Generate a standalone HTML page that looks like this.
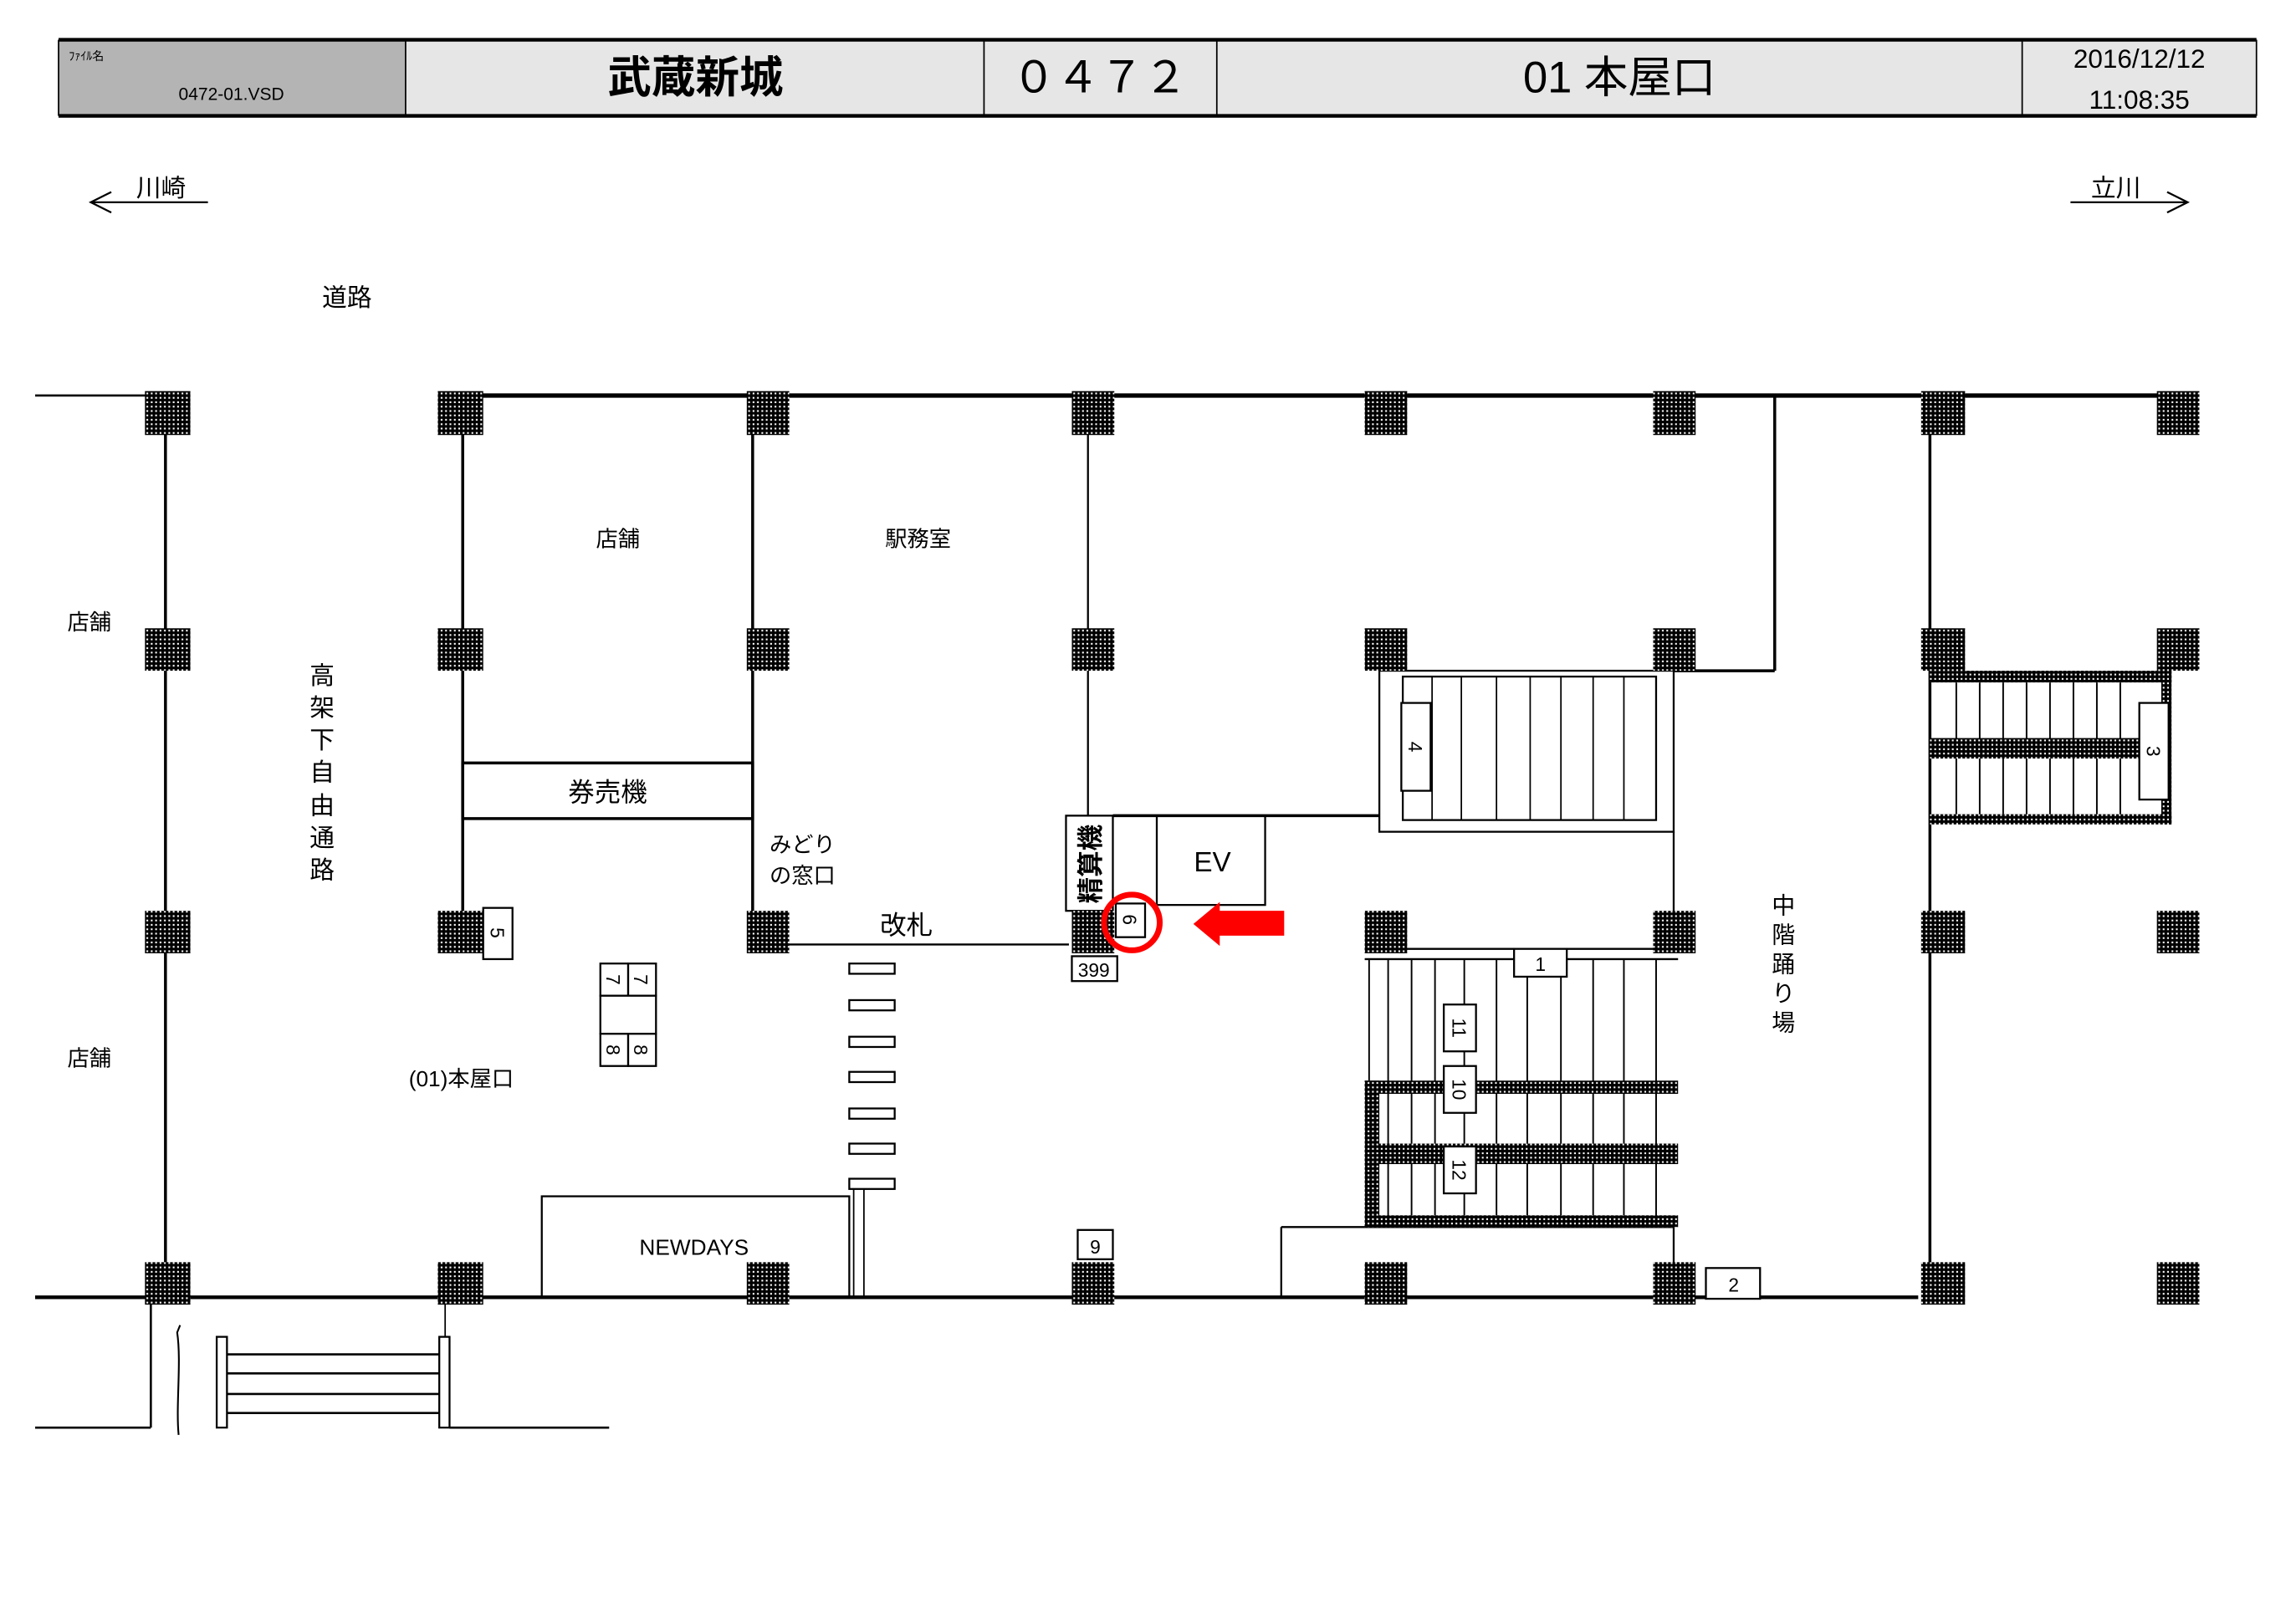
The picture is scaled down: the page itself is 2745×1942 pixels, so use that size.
<!DOCTYPE html>
<html><head><meta charset="utf-8"><style>
html,body{margin:0;padding:0;background:#fff;}
svg{display:block;}
text{font-family:"Liberation Sans","Noto Sans CJK JP",sans-serif;fill:#000;}
</style></head><body>
<svg width="2745" height="1942" viewBox="0 0 1568 1109" xmlns="http://www.w3.org/2000/svg">
<defs>
<pattern id="h" width="3" height="3" patternUnits="userSpaceOnUse">
<rect width="3" height="3" fill="#000"/><rect x="1" y="1" width="1.2" height="1.2" fill="#fff"/>
</pattern>
</defs>
<rect width="1568" height="1109" fill="#fff"/>
<!-- header -->
<rect x="40" y="27" width="237" height="52" fill="#b4b4b4"/>
<rect x="277" y="27" width="1264" height="52" fill="#e6e6e6"/>
<g stroke="#000" fill="none">
<line x1="40" y1="27" x2="1541" y2="27" stroke-width="2.5"/>
<line x1="40" y1="79" x2="1541" y2="79" stroke-width="2.5"/>
<line x1="40" y1="27" x2="40" y2="79"/><line x1="1541" y1="27" x2="1541" y2="79"/>
<line x1="277" y1="27" x2="277" y2="79"/><line x1="672" y1="27" x2="672" y2="79"/>
<line x1="831" y1="27" x2="831" y2="79"/><line x1="1381" y1="27" x2="1381" y2="79"/>
</g>
<text x="47" y="41" font-size="8">ﾌｧｲﾙ名</text>
<text x="158" y="68" font-size="12" text-anchor="middle">0472-01.VSD</text>
<text x="475" y="63" font-size="30" font-weight="bold" text-anchor="middle">武蔵新城</text>
<text x="751" y="63" font-size="30" text-anchor="middle">０４７２</text>
<text x="1106" y="63" font-size="30" text-anchor="middle">01 本屋口</text>
<text x="1461" y="46" font-size="18" text-anchor="middle">2016/12/12</text>
<text x="1461" y="74" font-size="18" text-anchor="middle">11:08:35</text>
<!-- direction arrows -->
<text x="110" y="134" font-size="17" text-anchor="middle">川崎</text>
<text x="1445" y="134" font-size="17" text-anchor="middle">立川</text>
<g stroke="#000" fill="none" stroke-width="1.3">
<line x1="62" y1="138" x2="142" y2="138"/><polyline points="76,131 62,138 76,145"/>
<line x1="1414" y1="138" x2="1494" y2="138"/><polyline points="1480,131 1494,138 1480,145"/>
</g>
<text x="237" y="209" font-size="17" text-anchor="middle">道路</text>
<!-- walls -->
<g stroke="#000" fill="none">
<line x1="315" y1="270" x2="1502" y2="270" stroke-width="3"/>
<line x1="24" y1="270" x2="100" y2="270" stroke-width="1.5"/>
<line x1="24" y1="886" x2="1310" y2="886" stroke-width="2.5"/>
<line x1="113" y1="282" x2="113" y2="877" stroke-width="2"/>
<line x1="316" y1="282" x2="316" y2="636" stroke-width="2"/>
<line x1="514" y1="282" x2="514" y2="636" stroke-width="2"/>
<line x1="743" y1="282" x2="743" y2="557" stroke-width="1.3"/>
<line x1="1212" y1="270" x2="1212" y2="458" stroke-width="2"/>
<line x1="1143" y1="458" x2="1212" y2="458" stroke-width="2"/>
<line x1="1318" y1="282" x2="1318" y2="877" stroke-width="2"/>
<rect x="316" y="521" width="198" height="38" stroke-width="2"/>
<line x1="538" y1="645" x2="730" y2="645" stroke-width="1.3"/>
<rect x="370" y="817" width="210" height="69" stroke-width="1.3"/>
<line x1="583" y1="812" x2="583" y2="886"/><line x1="590" y1="812" x2="590" y2="886"/>
<!-- bottom-left -->
<line x1="103" y1="886" x2="103" y2="975" stroke-width="1.5"/>
<line x1="24" y1="975" x2="103" y2="975" stroke-width="1.5"/>
<path d="M122,980 C120,960 124,930 121,910 L123,905" stroke-width="1.2"/>
<rect x="148" y="913" width="7" height="62" stroke-width="1.3"/>
<rect x="300" y="913" width="7" height="62" stroke-width="1.3"/>
<line x1="155" y1="925" x2="300" y2="925" stroke-width="1.5"/>
<line x1="155" y1="938" x2="300" y2="938" stroke-width="1.5"/>
<line x1="155" y1="952" x2="300" y2="952" stroke-width="1.5"/>
<line x1="155" y1="965" x2="300" y2="965" stroke-width="1.5"/>
<line x1="307" y1="975" x2="416" y2="975" stroke-width="1.5"/>
<line x1="304" y1="886" x2="304" y2="913"/>
<!-- gates -->
<rect x="580" y="658" width="31" height="7" stroke-width="1.3"/>
<rect x="580" y="683" width="31" height="7" stroke-width="1.3"/>
<rect x="580" y="708" width="31" height="7" stroke-width="1.3"/>
<rect x="580" y="732" width="31" height="7" stroke-width="1.3"/>
<rect x="580" y="757" width="31" height="7" stroke-width="1.3"/>
<rect x="580" y="781" width="31" height="7" stroke-width="1.3"/>
<rect x="580" y="805" width="31" height="7" stroke-width="1.3"/>
<!-- 精算機 / EV -->
<rect x="728" y="557" width="32" height="65" stroke-width="1.3"/>
<line x1="760" y1="557" x2="942" y2="557" stroke-width="2"/>
<rect x="790" y="557" width="74" height="61" stroke-width="1.3"/>
<line x1="760" y1="557" x2="760" y2="617"/>
<!-- upper stair 4 -->
<rect x="942" y="458" width="201" height="110" stroke-width="1.3"/>
<rect x="958" y="462" width="173" height="98" stroke-width="1.3"/>
<line x1="1143" y1="568" x2="1143" y2="636" stroke-width="1.3"/>
<line x1="998" y1="462" x2="998" y2="560"/><line x1="1022" y1="462" x2="1022" y2="560"/>
<line x1="1045" y1="462" x2="1045" y2="560"/><line x1="1066" y1="462" x2="1066" y2="560"/>
<line x1="1088" y1="462" x2="1088" y2="560"/><line x1="1109" y1="462" x2="1109" y2="560"/>
<line x1="978" y1="462" x2="978" y2="560"/>
<!-- stair 3 -->
<g stroke-width="1.1">
<line x1="1336" y1="466" x2="1336" y2="556"/><line x1="1352" y1="466" x2="1352" y2="556"/>
<line x1="1368" y1="466" x2="1368" y2="556"/><line x1="1384" y1="466" x2="1384" y2="556"/>
<line x1="1400" y1="466" x2="1400" y2="556"/><line x1="1416" y1="466" x2="1416" y2="556"/>
<line x1="1432" y1="466" x2="1432" y2="556"/><line x1="1448" y1="466" x2="1448" y2="556"/>
</g>
<!-- lower stair -->
<line x1="932" y1="648" x2="1146" y2="648" stroke-width="1.3"/>
<line x1="932" y1="655" x2="1146" y2="655" stroke-width="1.3"/>
<g stroke-width="1.1">
<line x1="935" y1="655" x2="935" y2="738"/><line x1="948" y1="655" x2="948" y2="838"/>
<line x1="964" y1="655" x2="964" y2="838"/><line x1="980" y1="655" x2="980" y2="838"/>
<line x1="1000" y1="655" x2="1000" y2="838"/><line x1="1022" y1="655" x2="1022" y2="838"/>
<line x1="1043" y1="655" x2="1043" y2="838"/><line x1="1066" y1="655" x2="1066" y2="838"/>
<line x1="1088" y1="655" x2="1088" y2="838"/><line x1="1109" y1="655" x2="1109" y2="838"/>
<line x1="1131" y1="655" x2="1131" y2="838"/>
</g>
<line x1="875" y1="838" x2="1143" y2="838" stroke-width="1.3"/>
<line x1="875" y1="838" x2="875" y2="886" stroke-width="1.3"/>
<line x1="1143" y1="838" x2="1143" y2="877" stroke-width="1.3"/>
</g>
<!-- hatched bands -->
<g fill="url(#h)">
<rect x="1318" y="458" width="165" height="8"/>
<rect x="1318" y="504" width="143" height="14"/>
<rect x="1318" y="556" width="165" height="7"/>
<rect x="1476" y="458" width="7" height="105"/>
<rect x="932" y="738" width="214" height="9"/>
<rect x="932" y="781" width="214" height="14"/>
<rect x="932" y="830" width="214" height="8"/>
<rect x="932" y="738" width="10" height="100"/>
</g>
<!-- columns -->
<g fill="url(#h)">
<rect x="99" y="267" width="31" height="30"/><rect x="299" y="267" width="31" height="30"/>
<rect x="510" y="267" width="29" height="30"/><rect x="732" y="267" width="29" height="30"/>
<rect x="932" y="267" width="29" height="30"/><rect x="1129" y="267" width="29" height="30"/>
<rect x="1312" y="267" width="30" height="30"/><rect x="1473" y="267" width="29" height="30"/>
<rect x="99" y="429" width="31" height="29"/><rect x="299" y="429" width="31" height="29"/>
<rect x="510" y="429" width="29" height="29"/><rect x="732" y="429" width="29" height="29"/>
<rect x="932" y="429" width="29" height="29"/><rect x="1129" y="429" width="29" height="29"/>
<rect x="1312" y="429" width="30" height="29"/><rect x="1473" y="429" width="29" height="29"/>
<rect x="99" y="622" width="31" height="29"/><rect x="299" y="622" width="31" height="29"/>
<rect x="510" y="622" width="29" height="29"/><rect x="732" y="622" width="29" height="29"/>
<rect x="932" y="622" width="29" height="29"/><rect x="1129" y="622" width="29" height="29"/>
<rect x="1312" y="622" width="30" height="29"/><rect x="1473" y="622" width="29" height="29"/>
<rect x="99" y="862" width="31" height="29"/><rect x="299" y="862" width="31" height="29"/>
<rect x="510" y="862" width="29" height="29"/><rect x="732" y="862" width="29" height="29"/>
<rect x="932" y="862" width="29" height="29"/><rect x="1129" y="862" width="29" height="29"/>
<rect x="1312" y="862" width="30" height="29"/><rect x="1473" y="862" width="29" height="29"/>
</g>
<!-- number boxes -->
<g fill="#fff" stroke="#000" stroke-width="1.3">
<rect x="330" y="620" width="20" height="35"/>
<rect x="410" y="658" width="19" height="22"/><rect x="429" y="658" width="19" height="22"/>
<rect x="410" y="680" width="38" height="26"/>
<rect x="410" y="706" width="19" height="22"/><rect x="429" y="706" width="19" height="22"/>
<rect x="762" y="617" width="20" height="23"/>
<rect x="732" y="653" width="31" height="17"/>
<rect x="736" y="840" width="24" height="20"/>
<rect x="1165" y="866" width="37" height="21"/>
<rect x="957" y="480" width="20" height="60"/>
<rect x="1461" y="480" width="20" height="66"/>
<rect x="1034" y="648" width="36" height="19"/>
<rect x="986" y="686" width="22" height="32"/>
<rect x="986" y="728" width="22" height="32"/>
<rect x="986" y="783" width="22" height="32"/>
</g>
<g font-size="13" text-anchor="middle">
<text transform="translate(340,637) rotate(90)" y="5">5</text>
<text transform="translate(419,669) rotate(90)" y="5">7</text>
<text transform="translate(438,669) rotate(90)" y="5">7</text>
<text transform="translate(419,717) rotate(90)" y="5">8</text>
<text transform="translate(438,717) rotate(90)" y="5">8</text>
<text transform="translate(772,628) rotate(90)" y="5">6</text>
<text x="747" y="667" font-size="13">399</text>
<text x="748" y="856">9</text>
<text x="1184" y="882">2</text>
<text transform="translate(967,510) rotate(90)" y="5">4</text>
<text transform="translate(1471,513) rotate(90)" y="5">3</text>
<text x="1052" y="663">1</text>
<text transform="translate(997,702) rotate(90)" y="5">11</text>
<text transform="translate(997,744) rotate(90)" y="5">10</text>
<text transform="translate(997,799) rotate(90)" y="5">12</text>
</g>
<!-- labels -->
<g font-size="15" text-anchor="middle">
<text x="422" y="373">店舗</text>
<text x="627" y="373">駅務室</text>
<text x="61" y="430">店舗</text>
<text x="61" y="728">店舗</text>
<text x="548" y="582">みどり</text>
<text x="548" y="603">の窓口</text>
<text x="315" y="742">(01)本屋口</text>
<text x="474" y="857">NEWDAYS</text>
</g>
<text x="415" y="547" font-size="18" text-anchor="middle">券売機</text>
<text x="619" y="638" font-size="18" text-anchor="middle">改札</text>
<text x="828" y="595" font-size="19" text-anchor="middle">EV</text>
<g font-size="17" text-anchor="middle">
<text x="220" y="467">高</text><text x="220" y="489">架</text><text x="220" y="511">下</text>
<text x="220" y="533">自</text><text x="220" y="556">由</text><text x="220" y="578">通</text><text x="220" y="600">路</text>
</g>
<g font-size="16" text-anchor="middle">
<text x="1218" y="624">中</text><text x="1218" y="644">階</text><text x="1218" y="664">踊</text>
<text x="1218" y="684">り</text><text x="1218" y="704">場</text>
</g>
<text transform="translate(744,590) rotate(-90)" font-size="18" font-weight="bold" text-anchor="middle" y="7">精算機</text>
<!-- red markers -->
<circle cx="773" cy="630" r="19" fill="none" stroke="#f00" stroke-width="4"/>
<polygon points="815,631 833,616 833,622 877,622 877,639 833,639 833,646" fill="#f00"/>
</svg>
</body></html>
